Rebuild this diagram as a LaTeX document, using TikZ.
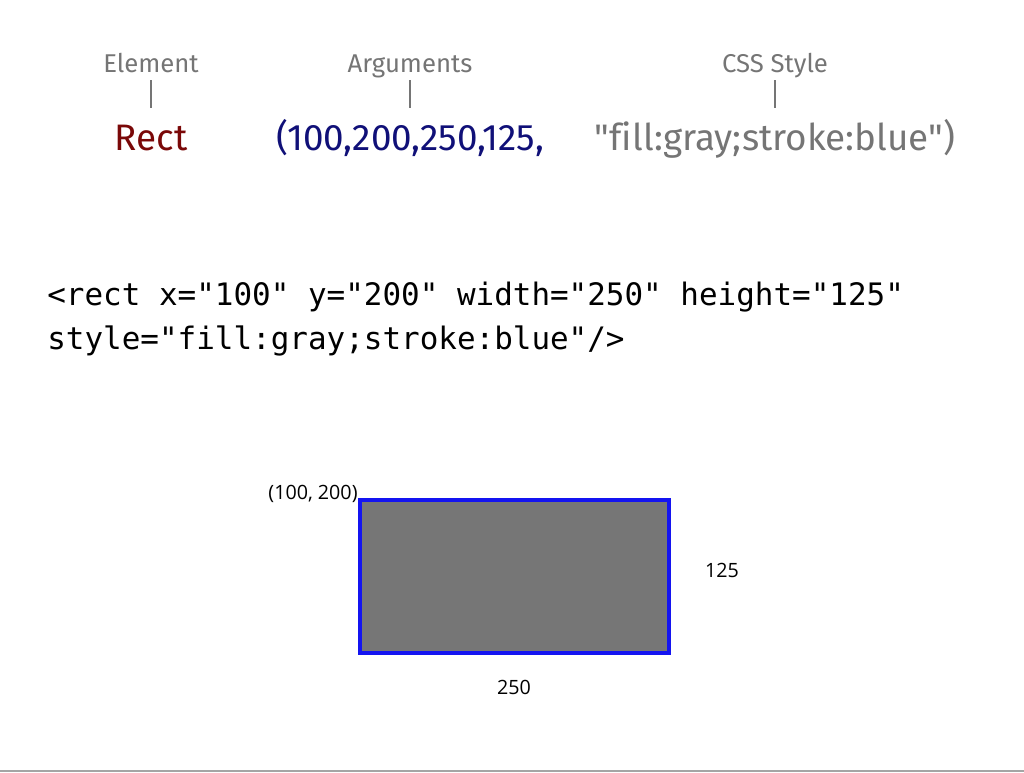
\documentclass[tikz,border=0pt]{standalone}
\usepackage{fontspec}
\setmainfont{Fira Sans}
\newfontfamily\cssfont{Fira Sans}[Ligatures=NoCommon]
\newfontfamily\codefont{DejaVu Sans Mono}
\newfontfamily\dimfont{Open Sans}
\usepackage{tikz}
\usepackage{xcolor}
\definecolor{labelgray}{RGB}{117,117,117}
\definecolor{elemred}{RGB}{122,8,8}
\definecolor{argnavy}{RGB}{16,16,120}
\definecolor{rectfill}{RGB}{118,118,118}
\definecolor{rectblue}{RGB}{20,20,240}
\definecolor{rulegray}{RGB}{165,165,165}

\begin{document}
\begin{tikzpicture}[x=0.025cm,y=-0.025cm,
	toplabel/.style={inner sep=0pt, outer ysep=1.1pt, anchor=base, text=labelgray,
		font=\fontsize{18.3}{20}\selectfont, text height=12.8pt, text depth=4.6pt},
	callpart/.style={inner sep=0pt, outer ysep=10.2pt, anchor=base,
		font=\cssfont\fontsize{26.2}{30}\selectfont, text height=19.65pt, text depth=6.5pt},
	codeline/.style={inner sep=0pt, anchor=base west, font=\codefont\fontsize{22}{26}\selectfont},
	dimlabel/.style={inner sep=0pt, anchor=base, font=\dimfont\fontsize{14}{16}\selectfont},
	tick/.style={labelgray, line width=0.9pt}]
	\useasboundingbox (0,0) rectangle (1024,772);
	% call syntax
	\node[toplabel] (elemlbl) at (151,72) {Element};
	\node[toplabel] (argslbl) at (410,72) {Arguments};
	\node[toplabel] (csslbl) at (775,72) {CSS Style};
	\node[callpart, text=elemred] (elem) at (151,150) {Rect};
	\node[callpart, text=argnavy] (args) at (410,150) {(100,200,250,125,};
	\node[callpart, text=labelgray] (css) at (775,150) {"fill:gray;stroke:blue")};
	\draw[tick] (elemlbl.south) -- (elem.north);
	\draw[tick] (argslbl.south) -- (args.north);
	\draw[tick] (csslbl.south) -- (css.north);
	% svg markup
	\node[codeline] (code1) at (47,305) {<rect x="100" y="200" width="250" height="125"};
	\node[codeline] (code2) at (47,349) {style="fill:gray;stroke:blue"/>};
	% rendered rectangle
	\draw[fill=rectfill, draw=rectblue, line width=2.2pt] (360,500) rectangle (669,653);
	\node[dimlabel] (origin) at (313,499) {(100, 200)};
	\node[dimlabel] (hgt) at (722,577) {125};
	\node[dimlabel] (wid) at (514,694) {250};
	\draw[rulegray, line width=1.5pt] (0,771) -- (1024,771);
\end{tikzpicture}
\end{document}
